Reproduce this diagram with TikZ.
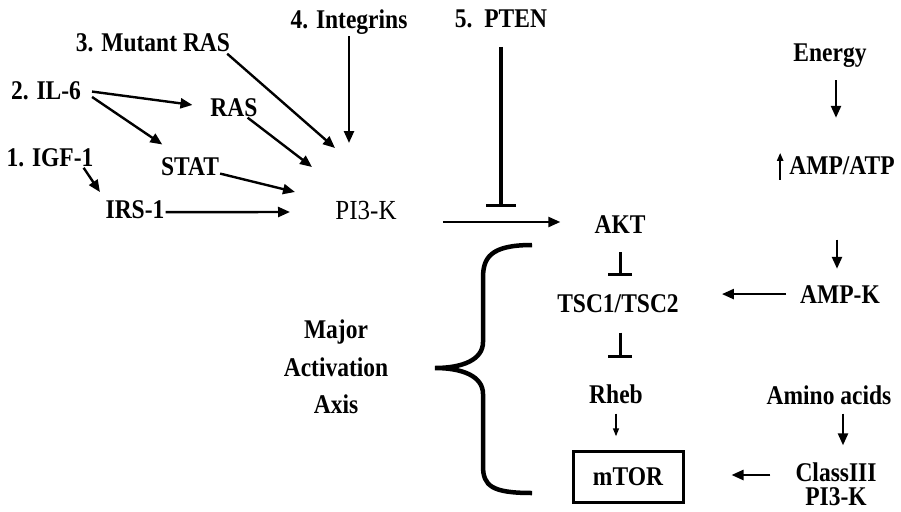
\documentclass[tikz,border=0pt]{standalone}
\usepackage{fontspec}
\setmainfont{Liberation Serif}
\usetikzlibrary{arrows.meta,positioning}

\begin{document}
\begin{tikzpicture}[x=1pt,y=-1pt,
 lbl/.style={font=\fontsize{23.5}{26}\selectfont\bfseries,inner sep=1pt,yscale=1.15},
 arr/.style={-{Triangle[length=12pt,width=10pt]},line width=2.4pt},
 thinarr/.style={-{Triangle[length=8pt,width=6pt]},line width=1.5pt},
 inh/.style={-{Bar[width=#1]},line width=3pt},
 inh/.default=24pt]
 \path[use as bounding box] (0,0) rectangle (901,511);
 % inputs to PI3-K
 \node[lbl,anchor=base] (integ) at (349,29) {4. Integrins};
 \node[lbl,anchor=base] (pten) at (501,28) {5.~~PTEN};
 \node[lbl,anchor=base] (mutras) at (153,52) {3. Mutant RAS};
 \node[lbl,anchor=base] (il6) at (46,99) {2. IL-6};
 \node[lbl,anchor=base] (ras) at (234,116) {RAS};
 \node[lbl,anchor=base] (igf) at (50,166) {1. IGF-1};
 \node[lbl,anchor=base] (stat) at (190,175) {STAT};
 \node[lbl,anchor=base] (irs) at (135,218) {IRS-1};
 \node[lbl,anchor=base,font=\fontsize{25}{27}\selectfont,yscale=0.96] (pi3k) at (366,219) {PI3-K};
 \coordinate (pi-int) at (349,143);
 \coordinate (pi-mut) at (335,148);
 \coordinate (pi-ras) at (312,167);
 \coordinate (pi-stat) at (295,192);
 \coordinate (pi-irs) at (290,212);
 \coordinate (pten-bar) at (501,207);
 % main axis
 \node[lbl,anchor=base] (akt) at (620,233) {AKT};
 \node[lbl,anchor=base] (tsc) at (618,312) {TSC1/TSC2};
 \node[lbl,anchor=base] (rheb) at (616,403) {Rheb};
 \node[lbl,draw,line width=3pt,minimum width=110pt,minimum height=43.5pt] (mtor) at (628,477) {mTOR};
 \node[lbl,align=center,font=\fontsize{23.5}{32.6}\selectfont\bfseries] (axis) at (336,367) {Major\\Activation\\Axis};
 % energy and amino acids
 \node[lbl,anchor=base] (energy) at (830,62) {Energy};
 \node[lbl,anchor=base] (ampatp) at (842,174) {AMP/ATP};
 \node[lbl,anchor=base] (ampk) at (840,303) {AMP-K};
 \node[lbl,anchor=base] (amino) at (829,404) {Amino acids};
 \node[lbl,align=center,font=\fontsize{23.5}{20.5}\selectfont\bfseries] (class3) at (836,484) {ClassIII\\PI3-K};

 \draw[arr,shorten >=8pt] ([xshift=-11pt]igf.south east) -- (irs.north west);
 \draw[arr,shorten <=10pt,shorten >=17pt] (il6.east) -- (ras.west);
 \draw[arr,shorten <=12pt,shorten >=20pt] (il6.east) -- ([xshift=19pt]stat.north west);
 \draw[arr] (integ) -- (pi-int);
 \draw[arr] ([xshift=-4pt]mutras.south east) -- (pi-mut);
 \draw[arr] (ras) -- (pi-ras);
 \draw[arr] (stat) -- (pi-stat);
 \draw[arr] ([yshift=-3pt]irs.east) -- (pi-irs);
 \draw[arr,shorten <=45pt] (pi3k.east |- 0,222) -- ([xshift=-33pt]akt.west |- 0,222);
 \draw[inh=30pt,line width=3.5pt,shorten <=17pt] (pten) -- (pten-bar);

 \draw[inh,shorten <=18pt,shorten >=17pt] (akt.south) -- (akt.south |- tsc.north);
 \draw[inh,shorten <=19pt,shorten >=25pt] (akt.south |- tsc.south) -- (akt.south |- rheb.north);
 \draw[thinarr,shorten <=9pt,shorten >=14pt] (rheb.south) -- (rheb.south |- mtor.north);

 \draw[arr,shorten <=11pt,shorten >=37pt] ([xshift=6pt]energy.south) -- ([xshift=6pt]energy.south |- ampatp.north);
 \draw[thinarr,line width=2pt] ([shift={(-8pt,-4pt)}]ampatp.south west) -- ([shift={(-8pt,2pt)}]ampatp.north west);
 \draw[arr,shorten <=64pt,shorten >=15pt] ([xshift=-5pt]ampatp.south) -- ([xshift=-5pt]ampatp.south |- ampk.north);
 \draw[arr,shorten <=13pt,shorten >=42pt] (ampk.west) -- (ampk.west -| tsc.east);
 \draw[arr,shorten <=8pt,shorten >=16pt] ([xshift=14pt]amino.south) -- ([xshift=14pt]amino.south |- class3.north);
 \draw[arr,shorten <=24pt,shorten >=47pt] ([yshift=9pt]class3.west) -- ([yshift=9pt]class3.west -| mtor.east);

 \draw[line width=4.5pt] (532,245) .. controls (490,245) and (483,258) .. (483,278) -- (483,342)
   .. controls (483,360) and (462,368) .. (435,368) .. controls (462,368) and (483,376) .. (483,394)
   -- (483,466) .. controls (483,486) and (492,493) .. (532,493);
\end{tikzpicture}
\end{document}
